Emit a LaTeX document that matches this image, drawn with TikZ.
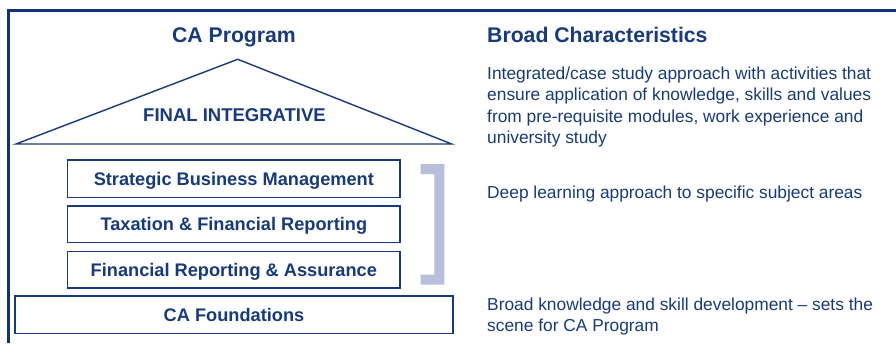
\documentclass[tikz,border=0pt]{standalone}
\usepackage{fontspec}
\setmainfont{Liberation Sans}
\definecolor{navy}{RGB}{22,58,124}
\definecolor{frameblue}{RGB}{16,50,118}
\definecolor{lavender}{RGB}{185,190,219}
\begin{document}
\begin{tikzpicture}[x=1pt,y=-1pt,
  heading/.style={font=\fontsize{21.2}{24}\selectfont\bfseries, text=navy, inner sep=0pt},
  body/.style={font=\fontsize{17.35}{21.4}\selectfont, text=navy, inner sep=0pt, anchor=base west, align=left},
  level/.style={draw=navy, line width=1.3pt, font=\fontsize{18.2}{22}\selectfont\bfseries, text=navy,
    text height=13pt, text depth=0pt, inner sep=0pt},
  roofline/.style={draw=navy, line width=1.4pt, line join=miter}]
  \useasboundingbox (0,0) rectangle (896,343);

  % outer frame: top and left edges
  \draw[frameblue, line width=2.5pt] (8.6,343) -- (8.6,10.6) -- (896,10.6);

  % column headings
  \node[heading, anchor=base] (progtitle) at (234,42.3) {CA Program};
  \node[heading, anchor=base west] (chartitle) at (487,42.3) {Broad Characteristics};

  % roof of the house
  \coordinate (roofL) at (16,144);
  \coordinate (roofT) at (237.7,59.3);
  \coordinate (roofR) at (451.7,144);
  \draw[roofline] (roofL) -- (roofT) -- (roofR) -- cycle;
  \node[font=\fontsize{18.5}{22}\selectfont\bfseries, text=navy, inner sep=0pt, anchor=base]
    (final) at (234.5,121.7) {FINAL INTEGRATIVE};

  % programme levels
  \node[level, minimum width=332.3pt, minimum height=37.3pt] (sbm) at (233.85,178.65) {Strategic Business Management};
  \node[level, minimum width=332.3pt, minimum height=36.7pt] (tfr) at (233.85,224.35) {Taxation \& Financial Reporting};
  \node[level, minimum width=332.3pt, minimum height=36.7pt] (fra) at (233.85,269.65) {Financial Reporting \& Assurance};
  \node[level, minimum width=438pt, minimum height=37.3pt] (found) at (234,314.65) {CA Foundations};

  % bracket grouping the three middle levels
  \fill[lavender] (420.7,164) -- (444.3,164) -- (444.3,284.7) -- (420.7,284.7) -- (420.7,274.7)
    -- (434.3,274.7) -- (434.3,174) -- (420.7,174) -- cycle;

  % characteristics (multi-line nodes are placed by the baseline of their last line)
  \node[body] (charfinal) at (487,143.7) {Integrated/case study approach with activities that\\
    ensure application of knowledge, skills and values\\
    from pre-requisite modules, work experience and\\
    university study};
  \node[body] (chardeep) at (487,198.3) {Deep learning approach to specific subject areas};
  \node[body] (charfound) at (487,331.6) {Broad knowledge and skill development -- sets the\\
    scene for CA Program};
\end{tikzpicture}
\end{document}
